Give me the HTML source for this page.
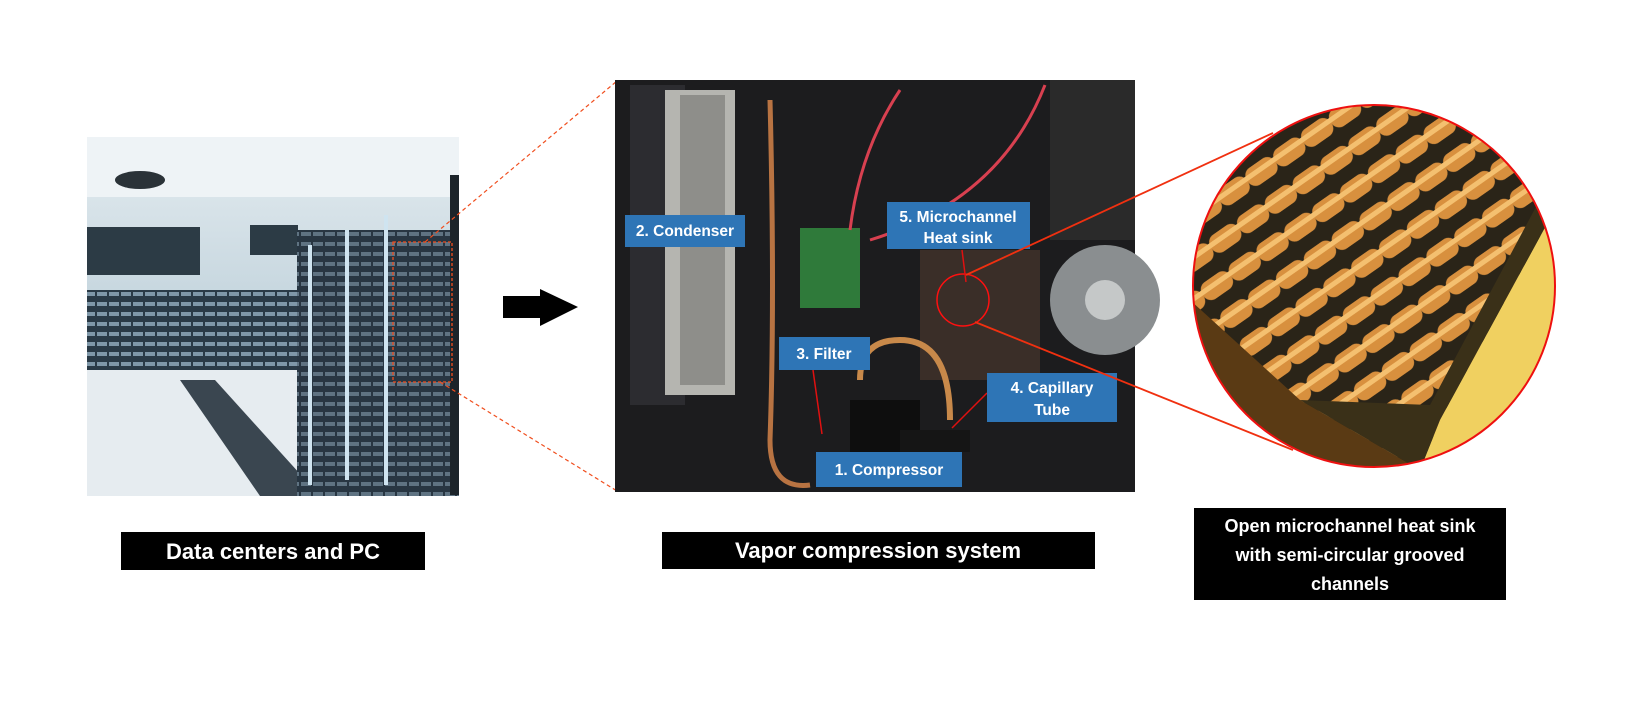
<!DOCTYPE html>
<html><head><meta charset="utf-8"><style>
html,body{margin:0;padding:0;background:#fff;width:1630px;height:711px;overflow:hidden}
svg{display:block}
text{font-family:"Liberation Sans",sans-serif;font-weight:bold}
</style></head><body>
<svg width="1630" height="711" viewBox="0 0 1630 711">
<defs>
<linearGradient id="room" x1="0" y1="0" x2="0" y2="1">
<stop offset="0" stop-color="#e4ecf0"/><stop offset="0.5" stop-color="#c3d4dd"/><stop offset="1" stop-color="#e6ecf0"/></linearGradient>
<pattern id="grv" width="34" height="34" patternUnits="userSpaceOnUse" patternTransform="rotate(-35)">
<rect width="34" height="34" fill="#2a2418"/><rect x="0" y="4" width="34" height="20" rx="9" fill="#d8903e"/><rect x="0" y="9" width="34" height="5" fill="#f4c070"/></pattern>
<pattern id="rack" width="12" height="10" patternUnits="userSpaceOnUse">
<rect width="12" height="10" fill="#2a3a46"/><rect x="1" y="2" width="10" height="4" fill="#7f97a8"/></pattern>
<clipPath id="cc"><circle cx="1374" cy="286" r="181"/></clipPath>
</defs>

<!-- Left photo -->
<rect x="87" y="137" width="372" height="359" fill="url(#room)"/>
<rect x="87" y="137" width="372" height="60" fill="#eef3f6"/>
<ellipse cx="140" cy="180" rx="25" ry="9" fill="#2a3238"/>
<rect x="87" y="227" width="113" height="48" fill="#2c3b45"/>
<rect x="250" y="225" width="48" height="30" fill="#2c3b45"/>
<rect x="87" y="290" width="220" height="80" fill="url(#rack)"/>
<rect x="87" y="370" width="210" height="126" fill="#e6ecf0"/>
<polygon points="180,380 215,380 320,496 260,496" fill="#3a4650"/>
<rect x="297" y="230" width="162" height="266" fill="url(#rack)"/>
<rect x="297" y="230" width="162" height="266" fill="#26323b" opacity="0.35"/>
<rect x="308" y="245" width="4" height="240" fill="#cfe4f0"/>
<rect x="345" y="230" width="4" height="250" fill="#cfe4f0"/>
<rect x="384" y="215" width="4" height="270" fill="#cfe4f0"/>
<rect x="450" y="175" width="9" height="320" fill="#1c242a"/>
<rect x="393" y="242" width="59" height="140" fill="none" stroke="#f04e1e" stroke-width="1.3" stroke-dasharray="3,2"/>
<line x1="425" y1="242" x2="617" y2="81" stroke="#f04e1e" stroke-width="1.2" stroke-dasharray="4,3"/>
<line x1="440" y1="382" x2="617" y2="491" stroke="#f04e1e" stroke-width="1.2" stroke-dasharray="4,3"/>

<!-- Arrow -->
<polygon points="503,296 540,296 540,289 578,307 540,326 540,318 503,318" fill="#000"/>

<!-- Middle photo -->
<rect x="615" y="80" width="520" height="412" fill="#1c1c1e"/>
<rect x="630" y="85" width="55" height="320" fill="#2c2c30"/>
<rect x="665" y="90" width="70" height="305" fill="#b5b5b0"/>
<rect x="680" y="95" width="45" height="290" fill="#8e8e8a"/>
<rect x="1050" y="80" width="85" height="160" fill="#2a2a2a"/>
<circle cx="1105" cy="300" r="55" fill="#8a8e90"/>
<circle cx="1105" cy="300" r="20" fill="#c5c8c8"/>
<rect x="800" y="228" width="60" height="80" fill="#2f7a3a"/>
<rect x="920" y="250" width="120" height="130" fill="#3a2e28"/>
<path d="M770 100 Q775 300 770 440 Q770 490 810 485" fill="none" stroke="#b87342" stroke-width="5"/>
<path d="M860 380 Q860 340 900 340 Q950 340 950 420" fill="none" stroke="#c8894a" stroke-width="6"/>
<rect x="850" y="400" width="70" height="60" fill="#0e0e0e"/>
<rect x="900" y="430" width="70" height="22" fill="#151515"/>
<path d="M900 90 Q860 150 850 230" fill="none" stroke="#d84050" stroke-width="3"/>
<path d="M1045 85 Q1000 200 870 240" fill="none" stroke="#d84050" stroke-width="3"/>
<circle cx="963" cy="300" r="26" fill="none" stroke="#ff1010" stroke-width="1.5"/>
<line x1="962" y1="250" x2="966" y2="282" stroke="#e01010" stroke-width="1.5"/>
<line x1="813" y1="370" x2="822" y2="434" stroke="#e01010" stroke-width="1.5"/>
<line x1="987" y1="393" x2="952" y2="428" stroke="#e01010" stroke-width="1.5"/>

<g fill="#2e75b6">
<rect x="625" y="215" width="120" height="32"/>
<rect x="887" y="202" width="143" height="47"/>
<rect x="779" y="337" width="91" height="33"/>
<rect x="987" y="373" width="130" height="49"/>
<rect x="816" y="452" width="146" height="35"/>
</g>
<g fill="#fff" font-size="15.5" text-anchor="middle">
<text x="685" y="236">2. Condenser</text>
<text x="958" y="222">5. Microchannel</text>
<text x="958" y="243">Heat sink</text>
<text x="824" y="359">3. Filter</text>
<text x="1052" y="393">4. Capillary</text>
<text x="1052" y="415">Tube</text>
<text x="889" y="475">1. Compressor</text>
</g>

<!-- Zoom lines -->
<line x1="966" y1="275" x2="1273" y2="133" stroke="#f03010" stroke-width="1.8"/>
<line x1="975" y1="322" x2="1293" y2="450" stroke="#f03010" stroke-width="1.8"/>

<!-- Circle -->
<g clip-path="url(#cc)">
<rect x="1190" y="100" width="370" height="372" fill="url(#grv)"/>
<polygon points="1190,300 1300,400 1420,470 1190,470" fill="#5a3a14"/>
<polygon points="1440,420 1560,200 1560,470 1420,470" fill="#f0d060"/>
<polygon points="1300,400 1420,470 1440,420 1560,200 1545,190 1430,405" fill="#3a3018"/>
</g>
<circle cx="1374" cy="286" r="181" fill="none" stroke="#ee1010" stroke-width="2"/>

<!-- Captions -->
<rect x="121" y="532" width="304" height="38" fill="#000"/>
<text x="273" y="559" fill="#fff" font-size="22" text-anchor="middle">Data centers and PC</text>
<rect x="662" y="532" width="433" height="37" fill="#000"/>
<text x="878" y="558" fill="#fff" font-size="22" text-anchor="middle">Vapor compression system</text>
<rect x="1194" y="508" width="312" height="92" fill="#000"/>
<g fill="#fff" font-size="18" text-anchor="middle">
<text x="1350" y="532">Open microchannel heat sink</text>
<text x="1350" y="561">with semi-circular grooved</text>
<text x="1350" y="590">channels</text>
</g>
</svg>
</body></html>
